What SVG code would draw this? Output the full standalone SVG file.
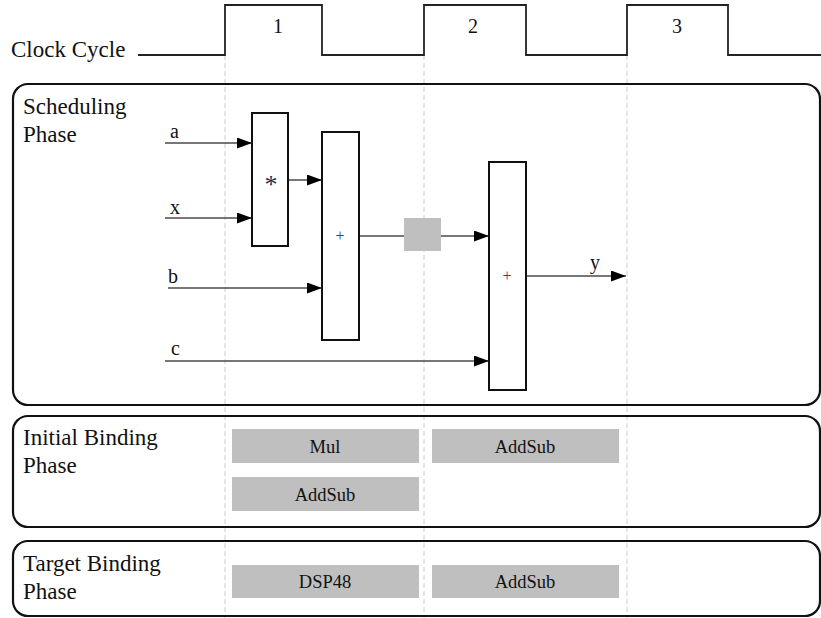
<svg xmlns="http://www.w3.org/2000/svg" width="821" height="618" viewBox="0 0 821 618">
<style>
text{font-family:'Liberation Serif','DejaVu Serif',serif;fill:#111}
.big{font-size:23px}
.lbl{font-size:20px}
.num{font-size:20px;text-anchor:middle}
.cell{font-size:18.5px;text-anchor:middle}
.op{font-size:16px;text-anchor:middle;fill:#2a4a7a}
.phase{fill:none;stroke:#111;stroke-width:2.2}
.unit{fill:#fff;stroke:#111;stroke-width:2}
.gray{fill:#bfbfbf}
.wire{stroke:#4a4a4a;stroke-width:1.5;fill:none}
.grid{stroke:#ccc;stroke-width:1;stroke-dasharray:5,3}
</style>
<defs>
<marker id="ah" viewBox="0 0 10 10" refX="10" refY="5" markerWidth="15" markerHeight="11" markerUnits="userSpaceOnUse" orient="auto" preserveAspectRatio="none">
<path d="M0,0 L10,5 L0,10 z" fill="#000"/>
</marker>
</defs>
<rect width="821" height="618" fill="#fff"/>
<g id="grid">
<line class="grid" x1="225" y1="55" x2="225" y2="618"/>
<line class="grid" x1="424" y1="55" x2="424" y2="618"/>
<line class="grid" x1="627" y1="55" x2="627" y2="618"/>
</g>
<g id="clock">
<text class="big" x="11" y="57">Clock Cycle</text>
<polyline fill="none" stroke="#222" stroke-width="1.8" points="138,55 225,55 225,5 322,5 322,55 424,55 424,5 526,5 526,55 627,55 627,5 728,5 728,55 821,55"/>
<text class="num" x="278" y="33">1</text>
<text class="num" x="473" y="33">2</text>
<text class="num" x="677" y="33">3</text>
</g>
<g id="scheduling">
<rect class="phase" x="13" y="84" width="807" height="321" rx="15"/>
<text class="big" x="23" y="114">Scheduling</text>
<text class="big" x="23" y="142">Phase</text>
</g>
<g id="initial">
<rect class="phase" x="13" y="416" width="807" height="111" rx="15"/>
<text class="big" x="23" y="445">Initial Binding</text>
<text class="big" x="23" y="473">Phase</text>
</g>
<g id="target">
<rect class="phase" x="13" y="541" width="807" height="75" rx="15"/>
<text class="big" x="23" y="571">Target Binding</text>
<text class="big" x="23" y="599">Phase</text>
</g>
<g id="connectors">
<line class="wire" x1="165" y1="143" x2="252" y2="143" marker-end="url(#ah)"/>
<line class="wire" x1="165" y1="218" x2="252" y2="218" marker-end="url(#ah)"/>
<line class="wire" x1="168" y1="288" x2="322" y2="288" marker-end="url(#ah)"/>
<line class="wire" x1="165" y1="361" x2="489" y2="361" marker-end="url(#ah)"/>
<line class="wire" x1="288" y1="180" x2="322" y2="180" marker-end="url(#ah)"/>
<line class="wire" x1="359" y1="236" x2="404" y2="236"/>
<line class="wire" x1="441" y1="236" x2="489" y2="236" marker-end="url(#ah)"/>
<line class="wire" x1="526" y1="276" x2="626" y2="276" marker-end="url(#ah)"/>
<text class="lbl" x="170" y="138">a</text>
<text class="lbl" x="170" y="214">x</text>
<text class="lbl" x="168" y="283">b</text>
<text class="lbl" x="171" y="355">c</text>
<text class="lbl" x="590" y="269">y</text>
</g>
<g id="mul">
<rect class="unit" x="252" y="113" width="36" height="133"/>
<text x="271" y="193" font-size="26" text-anchor="middle" style="fill:#1f2f4f">*</text>
</g>
<g id="add1">
<rect class="unit" x="322" y="132" width="37" height="208"/>
<text class="op" x="340" y="241">+</text>
</g>
<g id="reg">
<rect class="gray" x="404" y="218" width="37" height="33"/>
</g>
<g id="add2">
<rect class="unit" x="489" y="162" width="37" height="228"/>
<text class="op" x="507" y="281">+</text>
</g>
<g id="bind-mul">
<rect class="gray" x="232" y="429" width="187" height="34"/>
<text class="cell" x="325" y="453">Mul</text>
</g>
<g id="bind-addsub2">
<rect class="gray" x="432" y="429" width="187" height="34"/>
<text class="cell" x="525" y="453">AddSub</text>
</g>
<g id="bind-addsub1">
<rect class="gray" x="232" y="477" width="187" height="34"/>
<text class="cell" x="325" y="501">AddSub</text>
</g>
<g id="target-dsp">
<rect class="gray" x="232" y="565" width="187" height="33"/>
<text class="cell" x="325" y="588">DSP48</text>
</g>
<g id="target-addsub">
<rect class="gray" x="432" y="565" width="187" height="33"/>
<text class="cell" x="525" y="588">AddSub</text>
</g>
</svg>
